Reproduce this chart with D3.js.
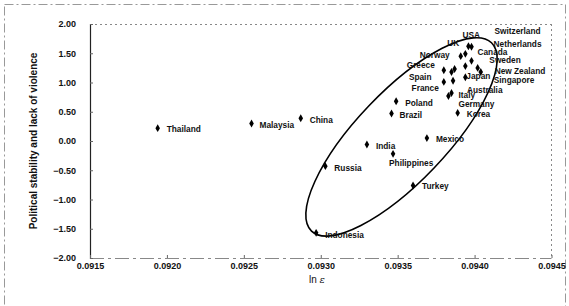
<!DOCTYPE html>
<head>
    <script src="https://d3js.org/d3.v7.min.js"></script>
    <style>
        body {margin: 0; background: #fff;}
        text {font-family: "Liberation Sans", Arial, sans-serif; fill: #111;}
        .lbl {font-size: 8.3px; font-weight: bold;}
        .tick text {font-size: 9px; font-weight: bold;}
    </style>
</head>
<body>
</body>
<script>
  // values
  const countries = ["Thailand", "Malaysia", "China", "Russia", "Indonesia", "India", "Philippines",
    "Mexico", "Turkey", "Poland", "Brazil", "Korea", "Germany", "Italy", "France", "Australia",
    "Japan", "Spain", "Greece", "Netherlands", "Sweden", "Canada", "Norway", "UK", "USA",
    "Switzerland", "New Zealand", "Singapore"];
  const lnEps = [0.09194, 0.09255, 0.09287, 0.09303, 0.09297, 0.09330, 0.09347,
    0.09369, 0.09360, 0.09349, 0.09346, 0.09389, 0.09383, 0.09385, 0.09380, 0.09386,
    0.09394, 0.09385, 0.09380, 0.09387, 0.09394, 0.09398, 0.09391, 0.09394, 0.09396,
    0.09398, 0.09402, 0.09404];
  const stability = [0.22, 0.30, 0.39, -0.43, -1.57, -0.06, -0.22,
    0.05, -0.76, 0.68, 0.47, 0.48, 0.77, 0.82, 1.01, 1.03,
    1.09, 1.18, 1.21, 1.23, 1.28, 1.37, 1.45, 1.49, 1.62,
    1.61, 1.25, 1.18];
  const xTicks = [0.0915, 0.0920, 0.0925, 0.0930, 0.0935, 0.0940, 0.0945];
  const yTicks = [-2, -1.5, -1, -0.5, 0, 0.5, 1, 1.5, 2];

  // label placement next to each marker: [dx, dy, anchor]
  const labelAt = {
    "Thailand": [9, 1], "Malaysia": [8, 2], "China": [9, 2], "Russia": [9, 2],
    "Indonesia": [9, 2], "India": [9, 2], "Philippines": [-4, 9], "Mexico": [9, 1],
    "Turkey": [9, 1], "Poland": [9, 2], "Brazil": [8, 2], "Korea": [9, 1],
    "Germany": [10, 8], "Italy": [7, 2], "France": [-5, 6, "end"], "Australia": [14, 9],
    "Japan": [1, -1], "Spain": [-20, 5, "end"], "Greece": [-9, -5, "end"], "Netherlands": [39, -25],
    "Sweden": [24, -6], "Canada": [6, -9], "Norway": [-11, -1, "end"], "UK": [-18, -11],
    "USA": [-6, -11], "Switzerland": [23, -16], "New Zealand": [17, 3], "Singapore": [13, 8]
  };

  const width = 569, height = 306,
        pLeft = 90, pRight = 551.5, pTop = 24, pBottom = 258;

  const x = d3.scaleLinear().domain([0.0915, 0.0945]).range([pLeft, pRight]);
  const y = d3.scaleLinear().domain([-2, 2]).range([pBottom, pTop]);

  const svg = d3.select("body").append("svg")
      .attr("width", width)
      .attr("height", height);

  // faint outer frame
  svg.append("rect")
      .attr("x", 4.5).attr("y", 4.5)
      .attr("width", 561).attr("height", 320)
      .attr("fill", "none").attr("stroke", "#999")
      .attr("stroke-dasharray", "9,3,2,3");

  // plot box: dotted top/right/bottom, solid left axis
  const box = svg.append("g").attr("stroke", "#888").attr("fill", "none").attr("stroke-dasharray", "2,3");
  box.append("line").attr("x1", pLeft).attr("x2", pRight).attr("y1", pTop + 0.5).attr("y2", pTop + 0.5);
  box.append("line").attr("x1", pRight).attr("x2", pRight).attr("y1", pTop).attr("y2", pBottom);
  box.append("line").attr("x1", pLeft).attr("x2", pRight).attr("y1", pBottom + 0.5).attr("y2", pBottom + 0.5)
      .attr("stroke-dasharray", "14,4,3,4");

  const yAxis = svg.append("g")
      .attr("transform", `translate(${pLeft},0)`)
      .call(d3.axisLeft(y).tickValues(yTicks).tickFormat(d3.format(".2f")).tickSize(-3).tickPadding(14));
  yAxis.select(".domain").attr("stroke", "#222").attr("stroke-width", 1.2);
  yAxis.selectAll(".tick line").attr("stroke", "#666");
  yAxis.selectAll(".tick text").text(d => d3.format(".2f")(d).replace("-", "\u2212"));

  const xAxis = svg.append("g")
      .attr("transform", `translate(0,${pBottom})`)
      .call(d3.axisBottom(x).tickValues(xTicks).tickFormat(d3.format(".4f")).tickSize(-3).tickPadding(5));
  xAxis.select(".domain").remove();
  xAxis.selectAll(".tick line").attr("stroke", "#666");

  svg.append("text")
      .attr("transform", `translate(33,${(pTop + pBottom) / 2}) rotate(-90)`)
      .attr("text-anchor", "middle")
      .attr("dy", "0.35em")
      .style("font-size", "10px")
      .style("font-weight", "bold")
      .text("Political stability and lack of violence");

  const xt = svg.append("text")
      .attr("x", 317).attr("y", 283)
      .attr("text-anchor", "middle")
      .style("font-size", "10px");
  xt.append("tspan").text("ln ");
  xt.append("tspan").style("font-style", "italic").style("font-family", "DejaVu Serif, serif").text("ε");

  // the hand-drawn ellipse, tips given in data units
  const tipLow = [0.09294, -1.54], tipHigh = [0.09411, 1.68];
  const p0 = [x(tipLow[0]), y(tipLow[1])], p1 = [x(tipHigh[0]), y(tipHigh[1])];
  const cx = (p0[0] + p1[0]) / 2, cy = (p0[1] + p1[1]) / 2;
  const rx = Math.hypot(p1[0] - p0[0], p1[1] - p0[1]) / 2;
  const ang = Math.atan2(p1[1] - p0[1], p1[0] - p0[0]) * 180 / Math.PI;
  svg.append("ellipse")
      .attr("cx", cx).attr("cy", cy)
      .attr("rx", rx).attr("ry", 45)
      .attr("transform", `rotate(${ang},${cx},${cy})`)
      .attr("fill", "none").attr("stroke", "#000").attr("stroke-width", 1.6);

  const pts = countries.map((c, i) => ({name: c, x: lnEps[i], y: stability[i]}));

  svg.append("g").selectAll("path")
      .data(pts)
    .enter().append("path")
      .attr("d", d3.symbol().type(d3.symbolDiamond).size(18))
      .attr("transform", d => `translate(${x(d.x)},${y(d.y)})`)
      .attr("fill", "#000");

  svg.append("g").selectAll("text")
      .data(pts)
    .enter().append("text")
      .attr("class", "lbl")
      .attr("x", d => x(d.x) + labelAt[d.name][0])
      .attr("y", d => y(d.y) + labelAt[d.name][1])
      .attr("dy", "0.35em")
      .attr("text-anchor", d => labelAt[d.name][2] || "start")
      .text(d => d.name);
</script>
